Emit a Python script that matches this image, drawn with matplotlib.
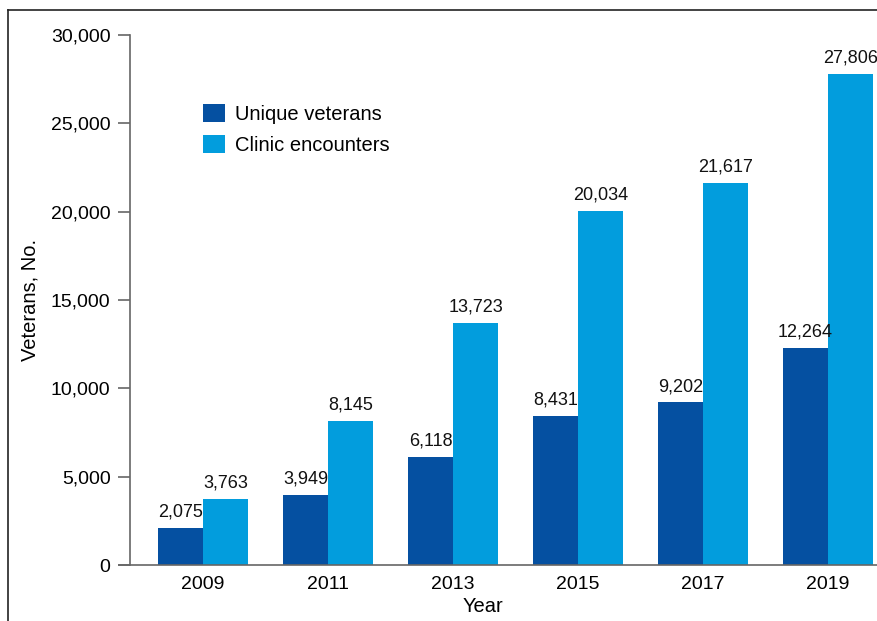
import matplotlib
matplotlib.use("Agg")
import matplotlib.pyplot as plt
from matplotlib.lines import Line2D
import numpy as np

plt.rcParams['font.family'] = ['Liberation Sans', 'DejaVu Sans']

years = ["2009", "2011", "2013", "2015", "2017", "2019"]
unique_veterans = [2075, 3949, 6118, 8431, 9202, 12264]
clinic_encounters = [3763, 8145, 13723, 20034, 21617, 27806]
yticks = [0, 5000, 10000, 15000, 20000, 25000, 30000]

dark_blue = "#0550A1"
light_blue = "#029DDD"

W, H = 877, 621
fig = plt.figure(figsize=(W / 100, H / 100), dpi=100)

ax_left, ax_right = 130 / W, 901 / W
ax_bottom, ax_top = 1 - 565 / H, 1 - 35 / H
ax = fig.add_axes([ax_left, ax_bottom, ax_right - ax_left, ax_top - ax_bottom])

x = np.arange(len(years))
w = 0.36
b1 = ax.bar(x - w / 2, unique_veterans, w, color=dark_blue, label="Unique veterans")
b2 = ax.bar(x + w / 2, clinic_encounters, w, color=light_blue, label="Clinic encounters")

for bars, vals in ((b1, unique_veterans), (b2, clinic_encounters)):
    for rect, v in zip(bars, vals):
        ax.text(rect.get_x() + rect.get_width() / 2, v + 420, f"{v:,}",
                ha="center", va="bottom", fontsize=13, color="#111111")

ax.set_xlim(-0.584, 5.584)
ax.set_ylim(0, 30000)
ax.set_xticks(x)
ax.set_xticklabels(years, fontsize=14)
ax.set_yticks(yticks)
ax.set_yticklabels([f"{t:,}" for t in yticks], fontsize=14)
ax.tick_params(axis="x", length=0, pad=8)
ax.tick_params(axis="y", length=8.5, width=1.2, color="#666666", pad=5.5)

for s in ("top", "right"):
    ax.spines[s].set_visible(False)
for s in ("left", "bottom"):
    ax.spines[s].set_color("#666666")
    ax.spines[s].set_linewidth(1.2)
ax.spines["bottom"].set_bounds(-0.672, 5.7)

ax.set_ylabel("Veterans, No.", fontsize=14.5)
ax.set_xlabel("Year", fontsize=14.5)
ax.xaxis.set_label_coords((483 - 130) / (901 - 130), -(607 - 565) / 530)
ax.xaxis.label.set_va("center")
ax.yaxis.set_label_coords(-(130 - 30) / (901 - 130), 0.5)
ax.yaxis.label.set_va("center")

leg = ax.legend(loc="upper left", bbox_to_anchor=((203 - 130) / 771, (565 - 104) / 530),
                frameon=False, fontsize=14.5, handlelength=1.1, handleheight=1.0,
                handletextpad=0.5, labelspacing=0.55, borderaxespad=0, borderpad=0)

# frame around the figure
fig.add_artist(Line2D([8 / W, 8 / W], [0, 1 - 10 / H], transform=fig.transFigure,
                      color="#222222", lw=1.2))
fig.add_artist(Line2D([8 / W, 1], [1 - 10 / H, 1 - 10 / H], transform=fig.transFigure,
                      color="#222222", lw=1.2))

fig.savefig("out.png", dpi=100)
